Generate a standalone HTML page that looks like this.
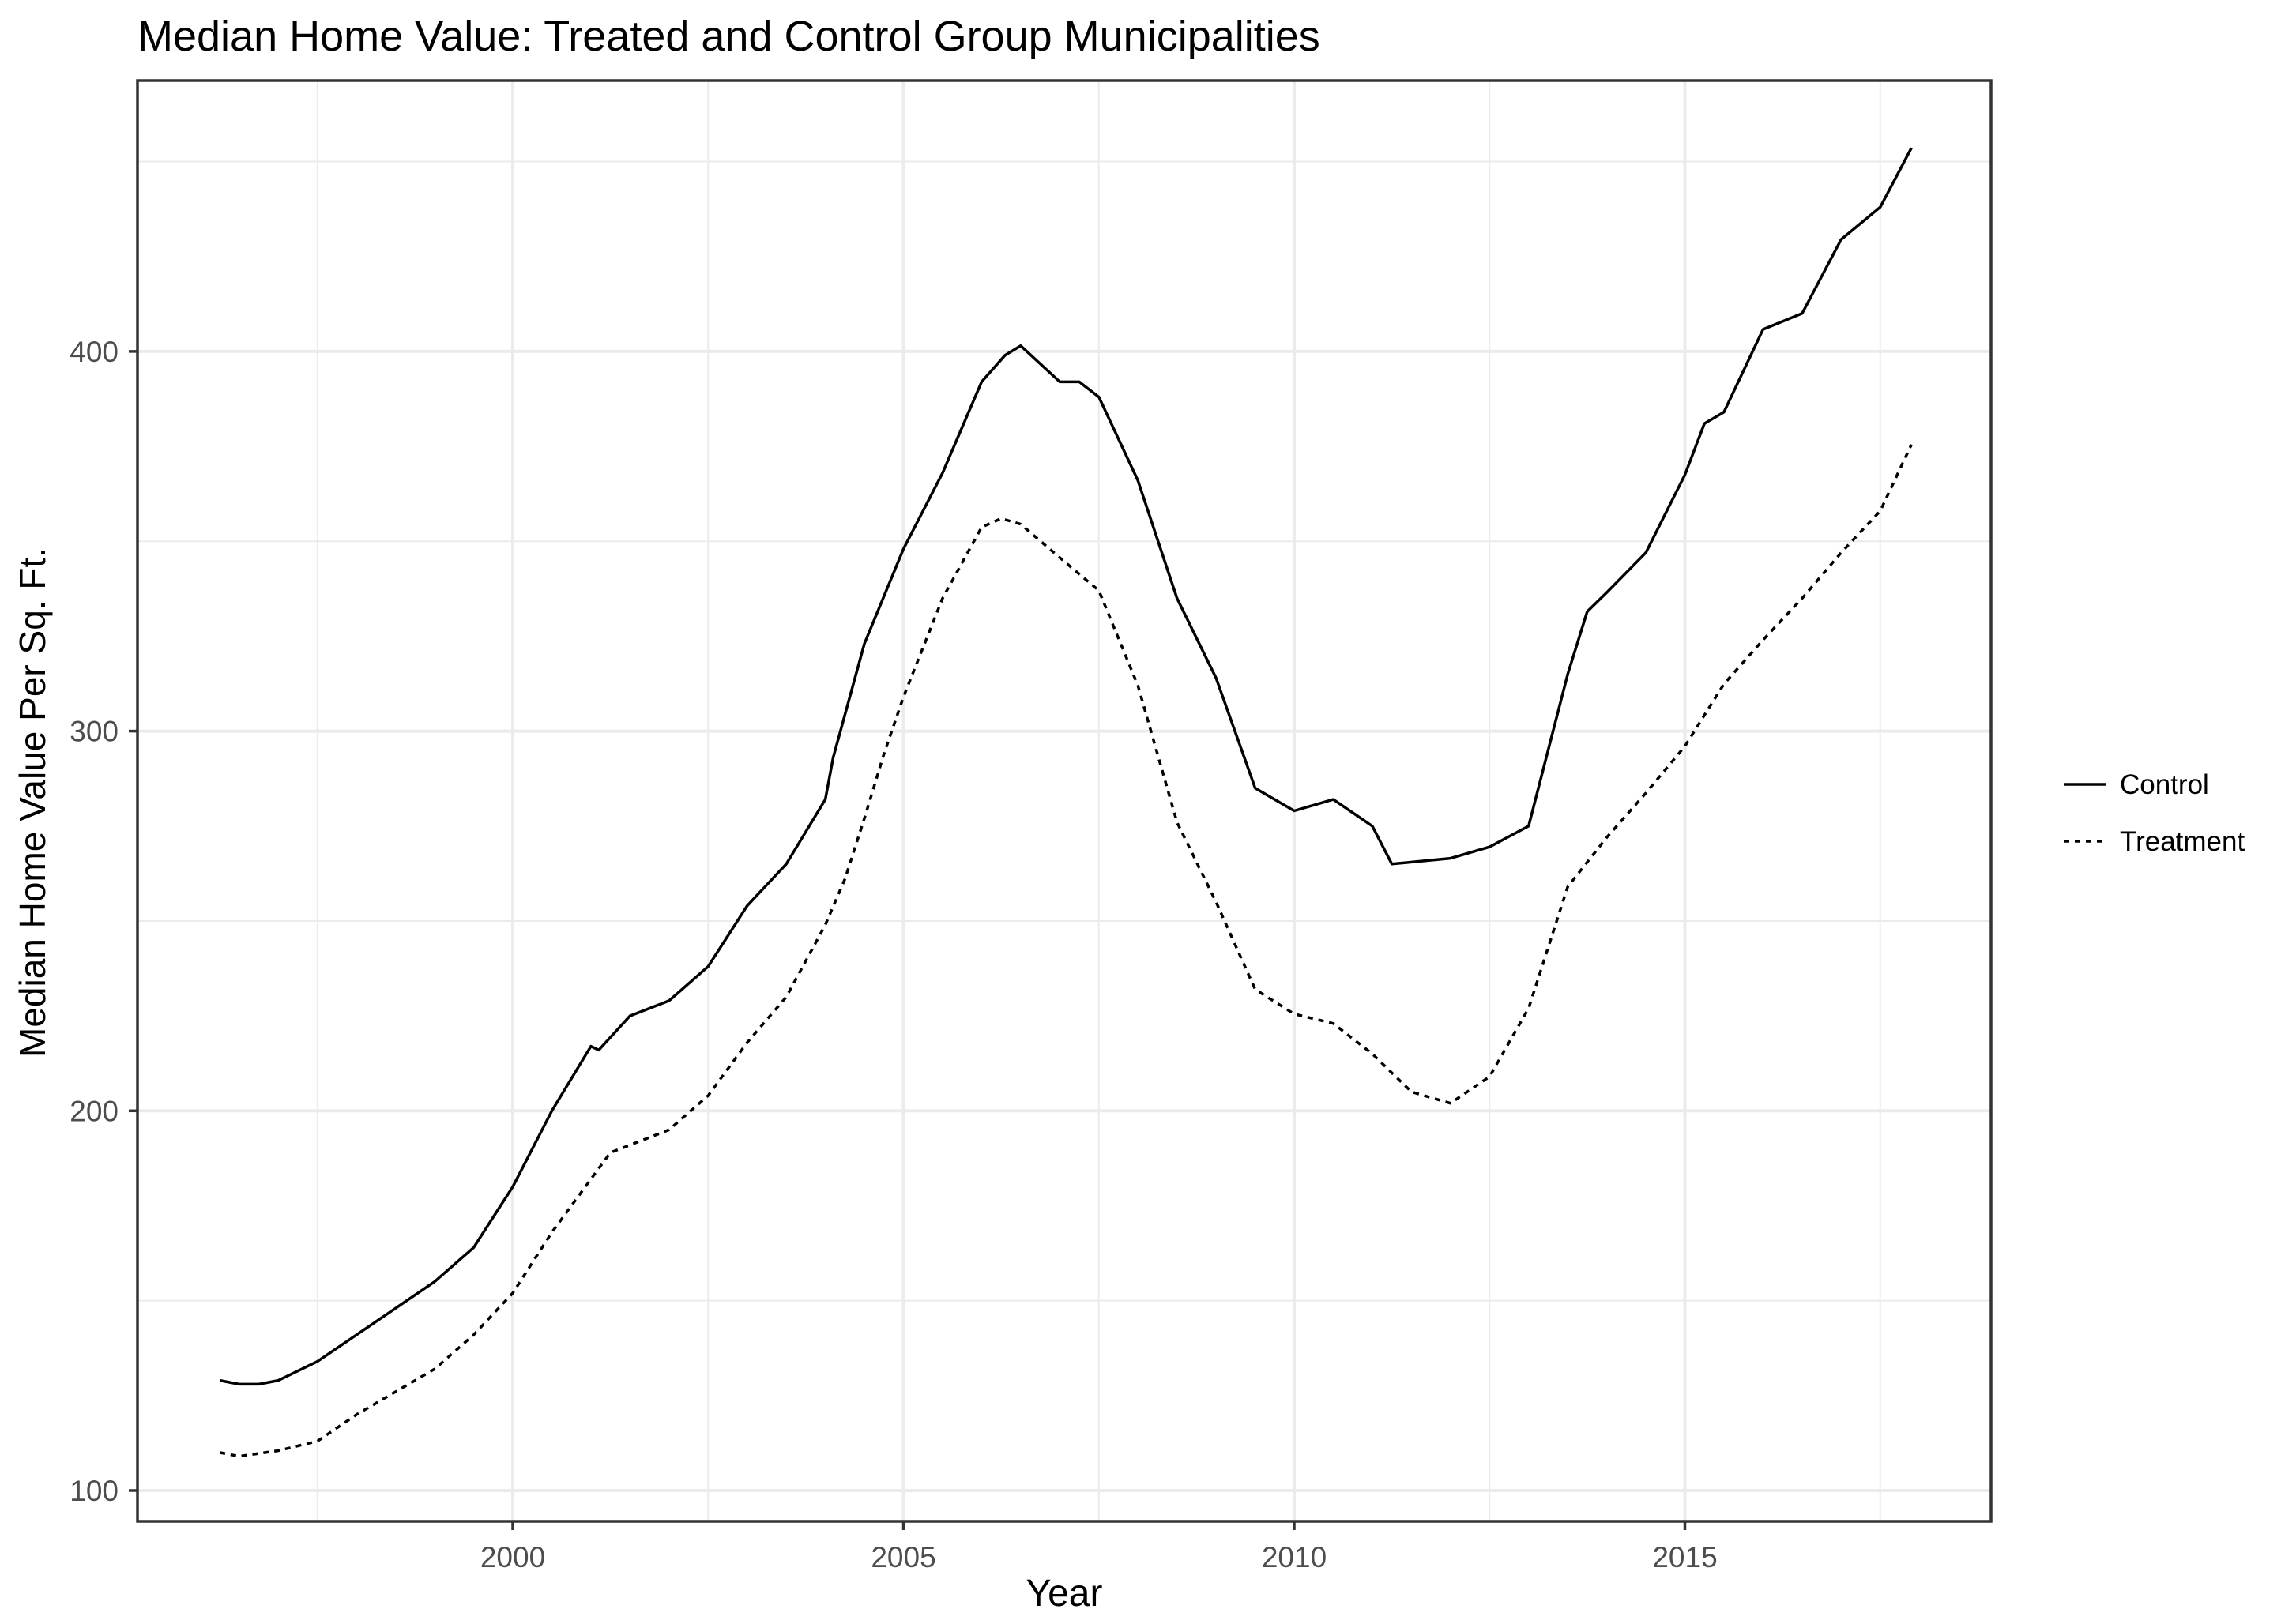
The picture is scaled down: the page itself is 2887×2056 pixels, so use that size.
<!DOCTYPE html>
<html><head><meta charset="utf-8"><style>
html,body{margin:0;padding:0;background:#fff;}
svg{display:block;font-family:"Liberation Sans",Arial,sans-serif;}
</style></head><body>
<svg id="chart" width="2887" height="2056" viewBox="0 0 2887 2056" xmlns="http://www.w3.org/2000/svg">
<rect width="2887" height="2056" fill="#fff"/>
<text x="174" y="64" font-size="54" fill="#000">Median Home Value: Treated and Control Group Municipalities</text>
<g id="grid"></g>
<g id="series"></g>
<rect x="174" y="102" width="2346" height="1824" fill="none" stroke="#333" stroke-width="3.5"/>
<g id="axes"></g>
<text x="1347" y="2033" font-size="48" text-anchor="middle" fill="#000">Year</text>
<text transform="translate(57,1016) rotate(-90)" font-size="46" text-anchor="middle" fill="#000">Median Home Value Per Sq. Ft.</text>
<g>
<line x1="2612" y1="993" x2="2666" y2="993" stroke="#000" stroke-width="3.5"/>
<text x="2683" y="1005" font-size="35" fill="#000">Control</text>
<line x1="2612" y1="1065" x2="2666" y2="1065" stroke="#000" stroke-width="3.5" stroke-dasharray="7,7"/>
<text x="2683" y="1077" font-size="35" fill="#000">Treatment</text>
</g>
</svg>
<script>
const controlYears = [1996.25,1996.5,1996.75,1997,1997.5,1998,1998.5,1999,1999.5,2000,2000.5,2001,2001.1,2001.5,2002,2002.5,2003,2003.5,2004,2004.1,2004.5,2005,2005.5,2006,2006.3,2006.5,2007,2007.25,2007.5,2008,2008.5,2009,2009.5,2010,2010.5,2011,2011.25,2011.75,2012,2012.5,2013,2013.5,2013.75,2014,2014.5,2015,2015.25,2015.5,2016,2016.5,2017,2017.5,2017.9];
const controlValues = [129,128,128,129,134,141,148,155,164,180,200,217,216,225,229,238,254,265,282,293,323,348,368,392,399,401.5,392,392,388,366,335,314,285,279,282,275,265,266,266.5,269.5,275,315,331.5,336.5,347,367.5,381,384,405.8,410,429.5,438,453.6];
const treatYears = [1996.25,1996.5,1997,1997.5,1998,1998.5,1999,1999.5,2000,2000.5,2001,2001.25,2001.5,2002,2002.5,2003,2003.5,2004,2004.25,2004.5,2004.75,2005,2005.5,2006,2006.25,2006.5,2007,2007.5,2008,2008.5,2009,2009.5,2010,2010.5,2011,2011.5,2012,2012.5,2013,2013.5,2014,2014.5,2015,2015.5,2016,2016.5,2017,2017.5,2017.9];
const treatValues = [110,109,110.5,113,120,126,132,141,152,168,182,189,191,195,204,218,230,249,261,277,294,309,335,353.7,356,354.5,345.7,337,312,276,255,232,225.5,223,215,205,202,209,227,259,272,283.7,296,312.4,324,335,347,358,375.5];
const yTicks = [100,200,300,400];
const yMinor = [150,250,350,450];
const xTicks = [2000,2005,2010,2015];
const xMinor = [1997.5,2002.5,2007.5,2012.5,2017.5];

const NS="http://www.w3.org/2000/svg";
const L=174,R=2520,T=102,B=1926;
function xs(yr){return 649+(yr-2000)*98.9;}
function ys(v){return 1887-(v-100)*4.807;}
function mk(tag,attrs,parent){const e=document.createElementNS(NS,tag);for(const k in attrs)e.setAttribute(k,attrs[k]);parent.appendChild(e);return e;}
const grid=document.getElementById('grid'),axes=document.getElementById('axes'),series=document.getElementById('series');
yMinor.forEach(v=>{const e=mk('line',{x1:L,x2:R,y1:ys(v),y2:ys(v),stroke:'#ebebeb','stroke-width':2},grid);

});
xMinor.forEach(v=>{const e=mk('line',{x1:xs(v),x2:xs(v),y1:T,y2:B,stroke:'#ebebeb','stroke-width':2},grid);

});
yTicks.forEach(v=>{const e=mk('line',{x1:L,x2:R,y1:ys(v),y2:ys(v),stroke:'#ebebeb','stroke-width':4},grid);


const t=mk('line',{x1:L-11,x2:L,y1:ys(v),y2:ys(v),stroke:'#333','stroke-width':3.5},axes);


const tx=mk('text',{x:L-24,y:ys(v)+13,'font-size':37,fill:'#4d4d4d','text-anchor':'end'},axes);tx.textContent=v;

});
xTicks.forEach(v=>{const e=mk('line',{x1:xs(v),x2:xs(v),y1:T,y2:B,stroke:'#ebebeb','stroke-width':4},grid);


const t=mk('line',{x1:xs(v),x2:xs(v),y1:B,y2:B+11,stroke:'#333','stroke-width':3.5},axes);


const tx=mk('text',{x:xs(v),y:B+58,'font-size':37,fill:'#4d4d4d','text-anchor':'middle'},axes);tx.textContent=v;

});
function path(xsArr,vs){return xsArr.map((x,i)=>(i?'L':'M')+xs(x).toFixed(1)+','+ys(vs[i]).toFixed(1)).join(' ');}
const c=mk('path',{d:path(controlYears,controlValues),fill:'none',stroke:'#000','stroke-width':3.5,'stroke-linejoin':'round'},series);


const t=mk('path',{d:path(treatYears,treatValues),fill:'none',stroke:'#000','stroke-width':3.5,'stroke-dasharray':'7,7'},series);


</script>
</body></html>
